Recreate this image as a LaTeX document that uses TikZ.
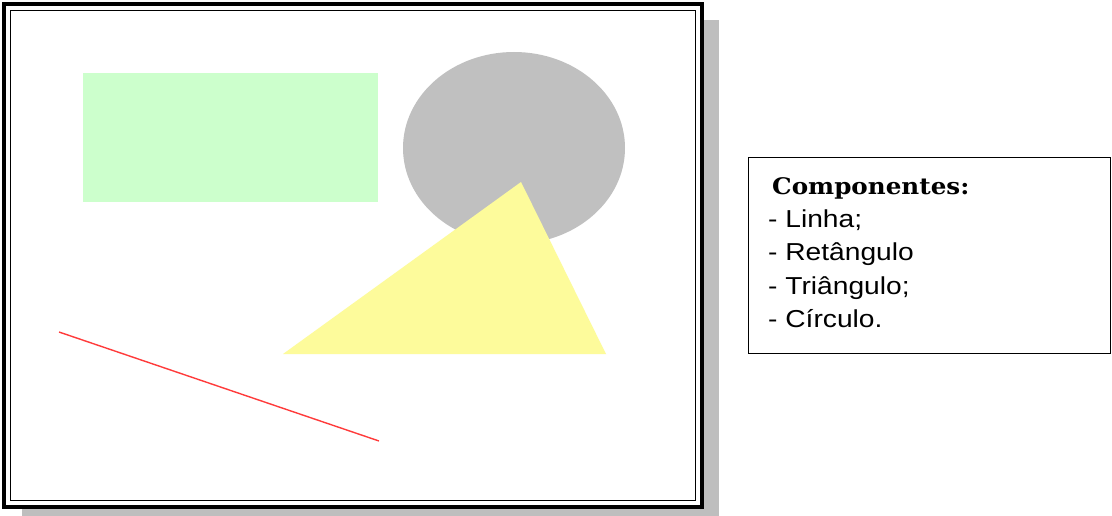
\documentclass[tikz,border=0pt]{standalone}
\usepackage{fontspec}
\usepackage{tikz}
\usetikzlibrary{positioning}
\newfontfamily\itemfont[FakeStretch=1.15]{Liberation Sans}
\newfontfamily\headfont[FakeStretch=1.08]{DejaVu Serif}
\definecolor{rectgreen}{HTML}{CCFFCC}
\definecolor{circgrey}{HTML}{C0C0C0}
\definecolor{triyellow}{HTML}{FDFB9B}
\definecolor{linered}{HTML}{FF3B3B}
\definecolor{shadowgrey}{HTML}{BEBEBE}

\begin{document}
\begin{tikzpicture}[x=1pt, y=-1pt,
        itemtext/.style={anchor=base west, inner sep=0pt, font=\itemfont\fontsize{24.5}{28}\selectfont},
        headtext/.style={anchor=base west, inner sep=0pt, font=\headfont\bfseries\fontsize{22.8}{26}\selectfont}]
        \useasboundingbox (0,0) rectangle (1112,516);

        % Frame with shadow
        \fill[shadowgrey] (22,20) rectangle (719,518);
        \fill[white] (4,4) rectangle (702,507);
        \draw[line width=3.5pt] (4,4) rectangle (702,507);
        \draw[line width=1.5pt] (10.5,10.5) rectangle (695.5,500.5);

        % Rectangle
        \fill[rectgreen] (83,73) rectangle (378,202);

        % Circle
        \fill[circgrey] (514,148) ellipse [x radius=111, y radius=96];

        % Triangle
        \coordinate (apex) at (521,182);
        \coordinate (tl) at (283,354);
        \coordinate (tr) at (606,354);
        \fill[triyellow] (apex) -- (tl) -- (tr) -- cycle;

        % Line
        \coordinate (la) at (59,332);
        \coordinate (lb) at (379,441);
        \draw[linered, line width=1.4pt] (la) -- (lb);

        % Legend
        \draw[line width=1pt] (748,158) rectangle (1110.5,353);
        \node[headtext] (head) at (772,195) {Componentes:};
        \foreach \txt/\yy/\nm in {Linha;/227/linha, Retângulo/260.5/ret, Triângulo;/294/tri, Círculo./327.5/circ}
            \node[itemtext] (\nm) at (768,\yy) {- \txt};
\end{tikzpicture}
\end{document}
